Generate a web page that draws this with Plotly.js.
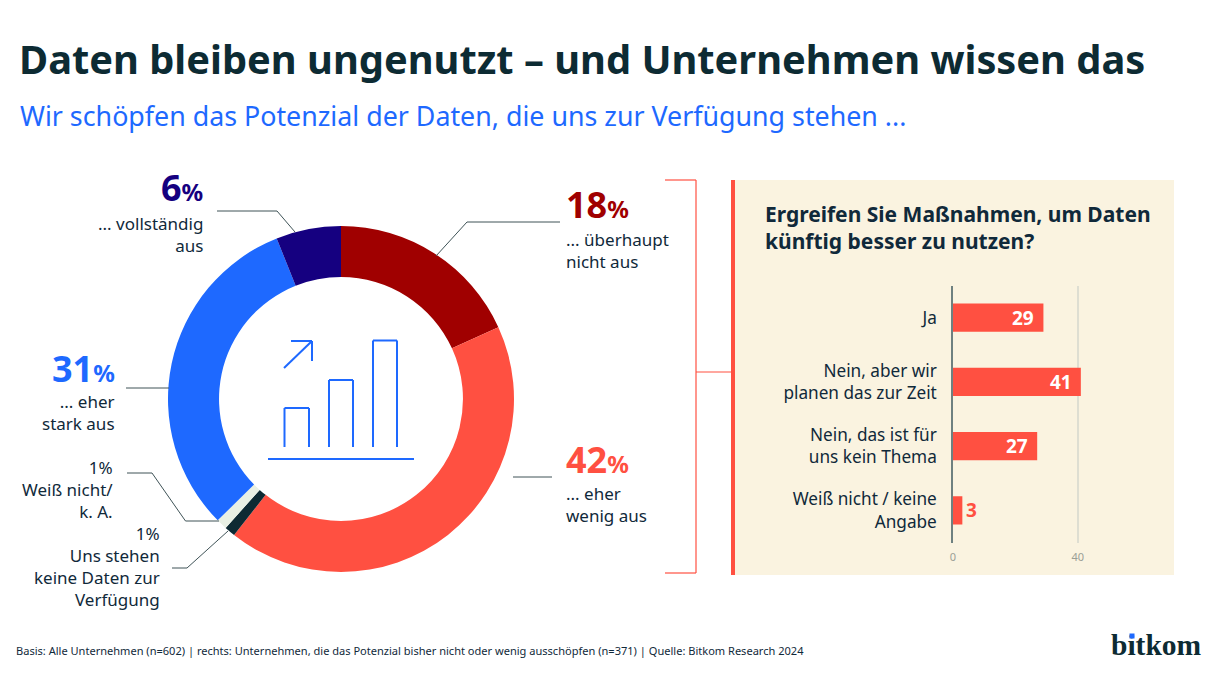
<!DOCTYPE html>
<html><head><meta charset="utf-8">
<script src="https://cdn.plot.ly/plotly-3.0.1.min.js"></script>
<style>html,body{margin:0;padding:0;background:#fff;overflow:hidden}</style>
</head><body><div id="chart" style="width:1210px;height:676px"></div>
<script>
const W = 1210, H = 676;
const sliceLabels = ["überhaupt nicht aus","eher wenig aus","Uns stehen keine Daten zur Verfügung","Weiß nicht/k. A.","eher stark aus","vollständig aus"];
const sliceValues = [18,42,1,1,31,6];
const sliceColors = ["#A00000","#FF5041","#0E2A33","#E9F0E4","#1E69FF","#150080"];
const barCategories = ["Ja","Nein, aber wir<br>planen das zur Zeit","Nein, das ist für<br>uns kein Thema","Weiß nicht / keine<br>Angabe"];
const barValues = [29,41,27,3];
const DARK = "#10293A", BLUE = "#1E69FF", RED = "#FF5041", LEAD = "#3F5357";
const FONT = "'Noto Sans', sans-serif";
const px = x => x / W, py = y => 1 - y / H;

function txt(text, x, y, anchor, size, color, bold) {
  const nudge = anchor === "left" ? -2 : 2;
  return {text: bold ? "<b>" + text + "</b>" : text, xref:"paper", yref:"paper", x:px(x + nudge), y:py(y),
    xanchor:anchor, yanchor:"middle", showarrow:false, align:anchor,
    font:{family:FONT, size:size, color:color}};
}
function pct(v, x, y, anchor, color) {
  return txt(v + '<span style="font-size:24px">%</span>', x, y, anchor, 36, color, true);
}
function poly(points, color, width) {
  const out = [];
  for (let i = 0; i < points.length - 1; i++) {
    out.push({type:"line", xref:"paper", yref:"paper", x0:px(points[i][0]), y0:py(points[i][1]),
      x1:px(points[i+1][0]), y1:py(points[i+1][1]), line:{color:color, width:width}});
  }
  return out;
}
function rect(x0, y0, x1, y1, color, layer) {
  return {type:"rect", layer:layer || "below", xref:"paper", yref:"paper", x0:px(x0), y0:py(y0), x1:px(x1), y1:py(y1),
    fillcolor:color, line:{width:0}};
}

const shapes = [
  rect(735,180,1174,575,"#FAF3E0"),
  rect(731,180,735,575,RED),
  ...poly([[665,180],[696,180],[696,573],[665,573]],RED,1.2),
  ...poly([[696,372],[731,372]],RED,1.2),
  ...poly([[217,211],[277,211],[295,232]],LEAD,1),
  ...poly([[126,388],[169,388]],LEAD,1),
  ...poly([[127,473],[152,473],[185.5,521],[219,521]],LEAD,1),
  ...poly([[172,568],[187,568],[228,531]],LEAD,1),
  ...poly([[560,222],[467,222],[436,256]],LEAD,1),
  ...poly([[513,477],[552,477]],LEAD,1),
  ...poly([[268,459],[414,459]],BLUE,2),
  ...poly([[284.5,447],[284.5,408],[309,408],[309,447]],BLUE,2),
  ...poly([[329,447],[329,380],[353,380],[353,447]],BLUE,2),
  ...poly([[373,447],[373,340.5],[397,340.5],[397,447]],BLUE,2),
  ...poly([[284,368],[312,341]],BLUE,2),
  ...poly([[291,341],[312,341],[312,361]],BLUE,2)
];

const annotations = [
  txt("Daten bleiben ungenutzt – und Unternehmen wissen das",19,59,"left",39.8,"#0D2B33",true),
  txt("Wir schöpfen das Potenzial der Daten, die uns zur Verfügung stehen ...",20,116,"left",26.8,BLUE,false),
  pct("18",566,204.5,"left","#A00000"),
  txt("... überhaupt<br>nicht aus",566,250.5,"left",17,DARK),
  pct("42",566,459.5,"left",RED),
  txt("... eher<br>wenig aus",566,504,"left",17,DARK),
  pct("6",203,188,"right","#150080"),
  txt("... vollständig<br>aus",203,234,"right",17,DARK),
  pct("31",115,369,"right",BLUE),
  txt("... eher<br>stark aus",115,412,"right",17,DARK),
  txt("1%<br>Weiß nicht/<br>k. A.",113,489,"right",17,DARK),
  txt("1%<br>Uns stehen<br>keine Daten zur<br>Verfügung",160,566.5,"right",17,DARK),
  txt("Ergreifen Sie Maßnahmen, um Daten<br>künftig besser zu nutzen?",765,227.5,"left",21,DARK,true),
  txt("Basis: Alle Unternehmen (n=602) | rechts: Unternehmen, die das Potenzial bisher nicht oder wenig ausschöpfen (n=371) | Quelle: Bitkom Research 2024",16,650.5,"left",11.05,DARK),
  {text:"<b>bitkom</b>", xref:"paper", yref:"paper", x:px(1204), y:py(645), xanchor:"right", yanchor:"middle", showarrow:false,
    font:{family:"'Liberation Serif', serif", size:29.5, color:"#0D2B33"}},
  {text:" ", xref:"paper", yref:"paper", x:px(1132.2), y:py(636), xanchor:"center", yanchor:"middle", showarrow:false,
    width:4, height:4, borderpad:0, bgcolor:BLUE, font:{size:2, color:BLUE}},
  ...barValues.map((v,i) => ({
    text:"<b>"+v+"</b>", xref:"x", yref:"y", x:v, y:barCategories[i], showarrow:false,
    xanchor: v < 10 ? "left" : "right", xshift: v < 10 ? 2 : -7, yanchor:"middle",
    font:{family:FONT, size:19, color: v < 10 ? RED : "#FFFFFF"}
  }))
];

const data = [
  {type:"pie", labels:sliceLabels, values:sliceValues, sort:false, direction:"clockwise", rotation:0,
   hole:0.705, textinfo:"none", hoverinfo:"label+value", marker:{colors:sliceColors, line:{width:0}},
   domain:{x:[px(168),px(514)], y:[py(572),py(226)]}, showlegend:false},
  {type:"bar", orientation:"h", x:barValues, y:barCategories, xaxis:"x", yaxis:"y",
   marker:{color:RED, line:{width:0}}, hoverinfo:"x+y", showlegend:false}
];

const layout = {
  width:W, height:H, margin:{l:0,r:0,t:0,b:0}, paper_bgcolor:"#FFFFFF", plot_bgcolor:"rgba(0,0,0,0)",
  showlegend:false, bargap:0.5625, shapes:shapes, annotations:annotations,
  font:{family:FONT},
  xaxis:{domain:[px(953),px(1108.9)], range:[0,50], tickvals:[0,40], ticktext:["0","40"], showgrid:true,
    gridcolor:"#DEDED2", gridwidth:1.5, zeroline:false, showline:false, ticks:"outside", ticklen:4, tickcolor:"rgba(0,0,0,0)",
    tickfont:{family:FONT, size:11, color:"#9A9F96"}, anchor:"y", fixedrange:true},
  yaxis:{domain:[py(542.5),py(285.5)], type:"category", autorange:"reversed", showgrid:false, zeroline:false,
    showline:true, linecolor:"#6E8080", linewidth:1.5, ticks:"outside", ticklen:11, tickcolor:"rgba(0,0,0,0)",
    tickfont:{family:FONT, size:17.2, color:DARK}, anchor:"x", fixedrange:true}
};
Plotly.newPlot("chart", data, layout, {displayModeBar:false, responsive:false});
</script></body></html>
